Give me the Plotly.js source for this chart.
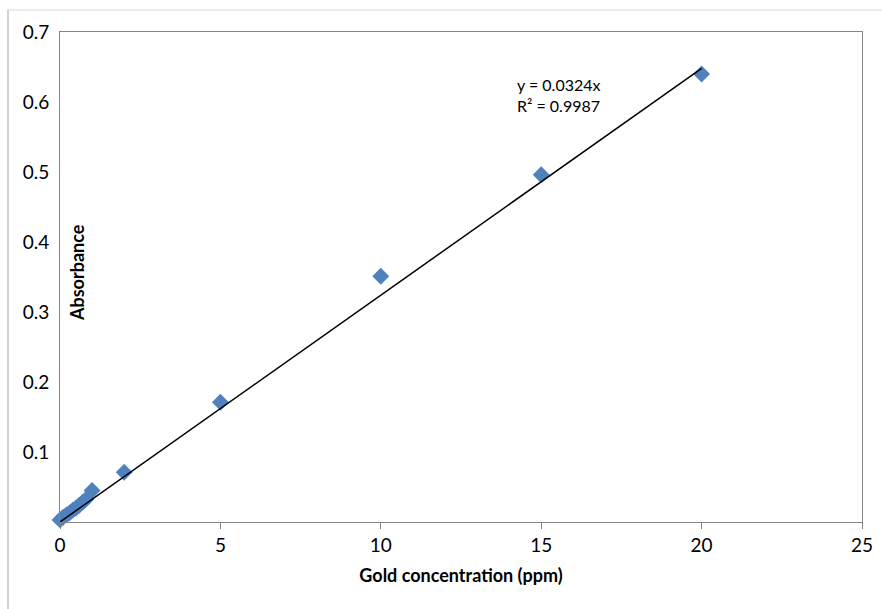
<!DOCTYPE html>
<html>
<head>
<meta charset="utf-8">
<script src="https://cdn.plot.ly/plotly-3.0.1.min.js"></script>
<style>html,body{margin:0;padding:0;background:#fff;}#chart{width:882px;height:609px;}</style>
</head>
<body>
<div id="chart"></div>
<script>
const concentration = [0, 0.1, 0.2, 0.3, 0.4, 0.5, 0.6, 0.7, 0.8, 1, 2, 5, 10, 15, 20];
const absorbance = [0.003, 0.007, 0.010, 0.013, 0.017, 0.020, 0.024, 0.028, 0.032, 0.045, 0.071, 0.171, 0.351, 0.496, 0.640];
const slope = 0.0324;
const trendX = [0, 20];
const equationLines = ["y = 0.0324x", "R² = 0.9987"];
const xTicks = [0, 5, 10, 15, 20, 25];
const yTicks = [0.1, 0.2, 0.3, 0.4, 0.5, 0.6, 0.7];

const font = "Lato, 'Open Sans', sans-serif";
const T = 32, B = 522, L = 60, R = 862;
const PH = B - T, PW = R - L;

const traces = [
  {
    x: concentration, y: absorbance, type: 'scatter', mode: 'markers',
    marker: {symbol: 'diamond', size: 13, color: '#4F81BD'},
    hoverinfo: 'skip', showlegend: false, cliponaxis: false
  },
  {
    x: trendX, y: trendX.map(v => slope * v), type: 'scatter', mode: 'lines',
    line: {color: '#000000', width: 1.5}, hoverinfo: 'skip', showlegend: false
  }
];

const layout = {
  width: 882, height: 609,
  margin: {l: L, r: 882 - R, t: T, b: 609 - B},
  paper_bgcolor: '#ffffff', plot_bgcolor: '#ffffff',
  font: {family: font, color: '#000', size: 19},
  showlegend: false,
  xaxis: {
    range: [0, 25], tickvals: xTicks, ticktext: xTicks.map(String),
    showgrid: false, zeroline: false,
    showline: true, linecolor: '#868686', linewidth: 1, mirror: true,
    ticks: 'outside', ticklen: 6, tickcolor: '#868686',
    tickfont: {size: 19, family: font},
    title: {text: '<b>Gold concentration (ppm)</b>', font: {size: 18, family: font}, standoff: 14}
  },
  yaxis: {
    range: [0, 0.7], tickvals: yTicks, ticktext: yTicks.map(v => v.toFixed(1)),
    showgrid: false, zeroline: false,
    showline: true, linecolor: '#868686', linewidth: 1, mirror: true,
    ticks: '', tickfont: {size: 19, family: font}, ticklabelstandoff: 6
  },
  annotations: [
    {
      text: '<b>Absorbance</b>', textangle: -90, xref: 'paper', yref: 'paper',
      x: (77 - L) / PW, y: 1 - (273 - T) / PH, xanchor: 'center', yanchor: 'middle', showarrow: false,
      font: {size: 18, family: font}
    },
    {
      text: equationLines.join('<br>'), xref: 'paper', yref: 'paper',
      x: (515 - L) / PW, y: 1 - (73 - T) / PH, xanchor: 'left', yanchor: 'top',
      align: 'left', showarrow: false, font: {size: 16, family: font}
    }
  ],
  shapes: [
    {type: 'line', xref: 'paper', yref: 'paper', x0: (8 - L) / PW, x1: (882 - L) / PW,
     y0: 1 + (T - 10) / PH, y1: 1 + (T - 10) / PH, line: {color: '#d9d9d9', width: 1}},
    {type: 'line', xref: 'paper', yref: 'paper', x0: (8 - L) / PW, x1: (8 - L) / PW,
     y0: 1 + (T - 10) / PH, y1: -(609 - B) / PH, line: {color: '#a6a6a6', width: 1}}
  ]
};

Plotly.newPlot('chart', traces, layout, {staticPlot: true});
</script>
</body>
</html>
